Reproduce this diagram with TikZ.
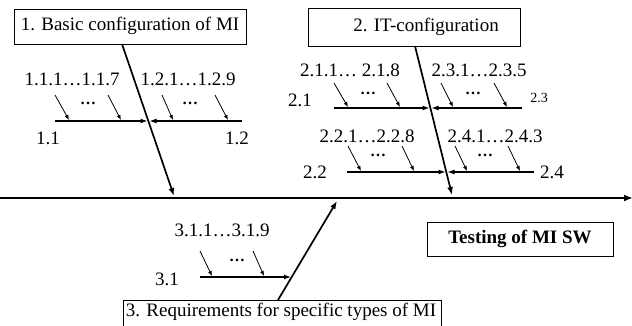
\documentclass[tikz,border=0pt]{standalone}
\usepackage{fontspec}
\setmainfont{Liberation Serif}
\usetikzlibrary{arrows.meta,calc}
\tikzset{
  box/.style={draw, line width=0.8pt, fill=white, inner sep=0pt},
  lbl/.style={inner sep=0pt, font=\fontsize{19}{22}\selectfont},
  smalllbl/.style={inner sep=0pt, font=\fontsize{14}{16}\selectfont},
  dotslbl/.style={inner sep=0pt, text height=3pt, text depth=0pt,
                  font=\fontsize{16}{18}\selectfont\bfseries},
  mainline/.style={line width=2.6pt, -{Latex[length=9pt,width=7pt]}},
  spine/.style={line width=1.7pt, -{Latex[length=8pt,width=6pt]}},
  branch/.style={line width=1.2pt, -{Latex[length=7pt,width=5pt]}},
  twig/.style={line width=0.8pt, -{Latex[length=5pt,width=4pt]}},
}
\begin{document}
\begin{tikzpicture}[x=1pt,y=-1pt]
\useasboundingbox (0,0) rectangle (632,326);
\clip (0,0) rectangle (632,326);

% category boxes
\node[box, minimum width=232pt, minimum height=35pt] (b1) at (130,26.5) {};
\node[lbl] (t1) at (130,26) {1. Basic configuration of MI};
\node[box, minimum width=212pt, minimum height=38pt] (b2) at (414,27) {};
\node[lbl] (t2) at (426,27) {2. IT-configuration};
\node[box, minimum width=318pt, minimum height=40pt] (b3) at (282,320) {};
\node[lbl] (t3) at (281,312) {3. Requirements for specific types of MI};
\node[box, minimum width=186pt, minimum height=34pt] (b4) at (520,239) {};
\node[lbl, font=\fontsize{19}{22}\selectfont\bfseries] (t4) at (520,239) {Testing of MI SW};

% main line
\coordinate (m0) at (0,198);
\coordinate (m1) at (633,198);
\draw[mainline] (m0) -- (m1);

% spines
\coordinate (s1a) at (122,44);
\coordinate (s1b) at (174,196);
\coordinate (s2a) at (415,46);
\coordinate (s2b) at (452,195);
\coordinate (s3a) at (278,300);
\coordinate (s3b) at (337,201);
\draw[spine] (s1a) -- (s1b);
\draw[spine] (s2a) -- (s2b);
\draw[spine] (s3a) -- (s3b);

% branches
\coordinate (r11) at (55,121);   \coordinate (e11) at (147.5,121);
\coordinate (r12) at (242,121);  \coordinate (e12) at (149.5,121);
\coordinate (r21) at (334,108);  \coordinate (e21) at (429.5,108);
\coordinate (r23) at (522,108);  \coordinate (e23) at (431.5,108);
\coordinate (r22) at (347,172);  \coordinate (e22) at (445.5,172);
\coordinate (r24) at (534,172);  \coordinate (e24) at (447.5,172);
\coordinate (r31) at (200,277);  \coordinate (e31) at (291,277);
\foreach \b in {11,12,21,23,22,24,31}
  \draw[branch] (r\b) -- (e\b);

% small causes on each branch
\foreach \n/\sx/\sy/\tx/\ty in {
  a/55/95/69/120, b/108/95/121/120, c/162/95/173/120, d/215/95/228/120,
  e/334/83/348/107, f/387/83/400/107, g/441/83/453/107, h/494/83/507/107,
  i/348/146/361/171, j/402/146/414/171, k/455/146/467/171, l/508/146/520/171,
  m/200/251/212/276, n/253/251/264/276}{
  \coordinate (c\n s) at (\sx,\sy);
  \coordinate (c\n t) at (\tx,\ty);
  \draw[twig] (c\n s) -- (c\n t);
}

% labels of group 1
\node[lbl] (l111) at (72,79) {1.1.1…1.1.7};
\node[lbl] (l121) at (188,79) {1.2.1…1.2.9};
\node[dotslbl] (d11) at (88,103) {…};
\node[dotslbl] (d12) at (190,103) {…};
\node[lbl] (l11) at (48,138) {1.1};
\node[lbl] (l12) at (237,138) {1.2};

% labels of group 2
\node[lbl] (l211) at (350,70) {2.1.1… 2.1.8};
\node[lbl] (l231) at (479,70) {2.3.1…2.3.5};
\node[dotslbl] (d21) at (368,93) {…};
\node[dotslbl] (d23) at (473,93) {…};
\node[lbl] (l21) at (300,100) {2.1};
\node[smalllbl] (l23) at (539,98) {2.3};
\node[lbl] (l221) at (367,136) {2.2.1…2.2.8};
\node[lbl] (l241) at (495,136) {2.4.1…2.4.3};
\node[dotslbl] (d22) at (378,155) {…};
\node[dotslbl] (d24) at (485,155) {…};
\node[lbl] (l22) at (315,172) {2.2};
\node[lbl] (l24) at (552,172) {2.4};

% labels of group 3
\node[lbl] (l311) at (222,230) {3.1.1…3.1.9};
\node[dotslbl] (d31) at (237,260) {…};
\node[lbl] (l31) at (167,279) {3.1};
\end{tikzpicture}
\end{document}
